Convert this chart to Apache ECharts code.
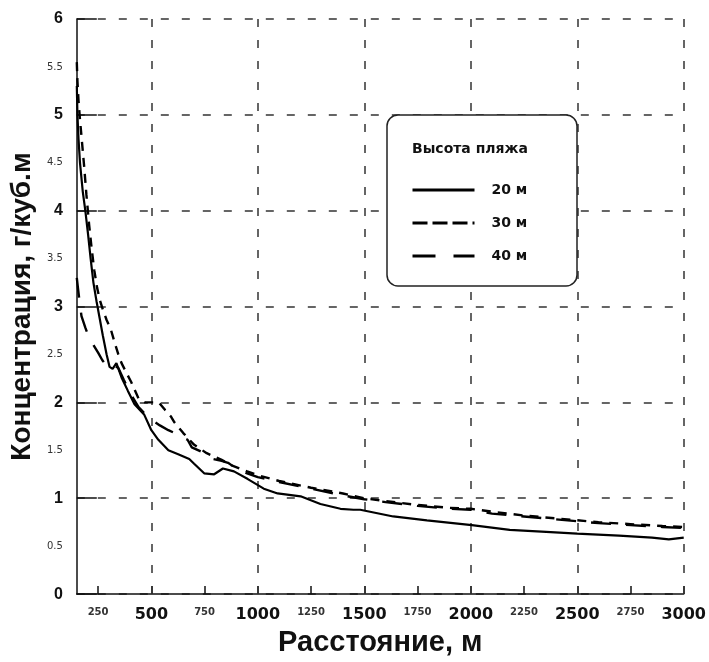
<!DOCTYPE html>
<html>
<head>
<meta charset="utf-8">
<script src="https://cdn.jsdelivr.net/npm/echarts@6/dist/echarts.min.js"></script>
<style>
  html, body { margin: 0; padding: 0; background: #fff; }
  #chart { width: 709px; height: 662px; }
</style>
</head>
<body>
<div id="chart"></div>
<script>
// Distance (m) and concentration (g/m^3) for each beach height
const dist20 = [150, 153, 158, 165, 178, 190, 203, 215, 228, 243, 258, 272, 290, 304, 318, 336, 360, 390, 421, 467, 500, 533, 580, 626, 678, 701, 748, 795, 836, 888, 953, 1028, 1093, 1201, 1294, 1388, 1449, 1481, 1636, 1794, 2005, 2183, 2354, 2500, 2696, 2851, 2930, 3000];
const conc20 = [5.3, 5.0, 4.75, 4.5, 4.2, 4.0, 3.75, 3.5, 3.25, 3.05, 2.87, 2.7, 2.5, 2.37, 2.35, 2.41, 2.26, 2.12, 1.98, 1.87, 1.71, 1.61, 1.5, 1.46, 1.41, 1.36, 1.26, 1.25, 1.31, 1.28, 1.2, 1.1, 1.05, 1.02, 0.94, 0.89, 0.88, 0.88, 0.81, 0.77, 0.72, 0.67, 0.65, 0.63, 0.61, 0.59, 0.57, 0.59];

const dist30 = [150, 153, 158, 165, 175, 185, 195, 208, 220, 232, 245, 258, 272, 290, 310, 327, 345, 360, 385, 406, 440, 470, 500, 535, 565, 593, 609, 650, 700, 760, 830, 880, 950, 1000, 1100, 1250, 1400, 1500, 1600, 1750, 1900, 2000, 2100, 2250, 2400, 2500, 2600, 2750, 2900, 3000];
const conc30 = [5.55, 5.35, 5.15, 4.95, 4.7, 4.45, 4.17, 3.85, 3.6, 3.38, 3.2, 3.07, 2.97, 2.86, 2.76, 2.63, 2.5, 2.41, 2.3, 2.21, 2.04, 2.0, 2.0, 2.0, 1.92, 1.85, 1.79, 1.68, 1.56, 1.47, 1.4, 1.34, 1.28, 1.24, 1.18, 1.11, 1.05, 1.0, 0.97, 0.93, 0.9, 0.89, 0.86, 0.82, 0.79, 0.77, 0.75, 0.73, 0.71, 0.70];

const dist40 = [150, 155, 163, 172, 190, 205, 228, 250, 270, 290, 310, 330, 345, 370, 400, 440, 470, 500, 540, 580, 620, 670, 690, 750, 790, 830, 860, 900, 950, 1000, 1100, 1250, 1400, 1500, 1600, 1750, 1900, 2000, 2100, 2250, 2400, 2500, 2600, 2750, 2900, 3000];
const conc40 = [3.3, 3.2, 3.05, 2.9, 2.78, 2.69, 2.6, 2.52, 2.44, 2.38, 2.36, 2.38, 2.36, 2.24, 2.1, 1.95, 1.88, 1.82, 1.76, 1.71, 1.67, 1.61, 1.53, 1.47, 1.41, 1.39, 1.37, 1.31, 1.26, 1.22, 1.17, 1.10, 1.03, 0.99, 0.96, 0.92, 0.89, 0.88, 0.84, 0.81, 0.78, 0.76, 0.74, 0.72, 0.70, 0.69];

const seriesNames = ['20 м', '30 м', '40 м'];
const legendTitle = 'Высота пляжа';
const xTitle = 'Расстояние, м';
const yTitle = 'Концентрация, г/куб.м';

// Axis ticks
const xTickValues = [250, 500, 750, 1000, 1250, 1500, 1750, 2000, 2250, 2500, 2750, 3000];
const xGridValues = [500, 1000, 1500, 2000, 2500, 3000];
const yMajorValues = [0, 1, 2, 3, 4, 5, 6];

const zip = (xs, ys) => xs.map((x, i) => [x, ys[i]]);

const gridDash = { color: '#333', width: 1.5, type: [8, 13] };

const chart = echarts.init(document.getElementById('chart'), null, { renderer: 'canvas' });

chart.setOption({
  animation: false,
  backgroundColor: '#fff',
  grid: { left: 76, right: 24, top: 19, bottom: 64, containLabel: false },
  xAxis: {
    type: 'value',
    min: 150,
    max: 3000,
    name: xTitle,
    nameLocation: 'middle',
    nameGap: 27,
    nameTextStyle: { fontFamily: 'Liberation Sans', fontWeight: 'bold', fontSize: 29, color: '#111' },
    axisLine: { show: true, onZero: false, lineStyle: { color: '#111', width: 1.5 } },
    axisTick: { show: true, inside: true, length: 8, customValues: xTickValues, lineStyle: { color: '#111', width: 1.5 } },
    axisLabel: {
      show: true,
      customValues: xTickValues,
      margin: 13,
      verticalAlign: 'top',
      formatter: v => (v % 500 === 0 ? '{big|' + v + '}' : '{small|' + v + '}'),
      rich: {
        big: { fontFamily: 'DejaVu Sans', fontWeight: 'bold', fontSize: 16, color: '#111' },
        small: { fontFamily: 'DejaVu Sans', fontWeight: 'bold', fontSize: 10, color: '#333', padding: [0, 0, 4, 0] }
      }
    },
    splitLine: { show: false }
  },
  yAxis: {
    type: 'value',
    min: 0,
    max: 6,
    interval: 0.5,
    name: yTitle,
    nameLocation: 'middle',
    nameGap: 40,
    nameTextStyle: { fontFamily: 'Liberation Sans', fontWeight: 'bold', fontSize: 28, color: '#111' },
    axisLine: { show: true, lineStyle: { color: '#111', width: 1.5 } },
    axisTick: { show: true, inside: true, length: 20, customValues: yMajorValues, lineStyle: { color: '#111', width: 1.5 } },
    axisLabel: {
      margin: 14,
      formatter: v => (Number.isInteger(v) ? '{big|' + v + '}' : '{small|' + v + '}'),
      rich: {
        big: { fontFamily: 'Liberation Sans', fontWeight: 'bold', fontSize: 16, color: '#111' },
        small: { fontFamily: 'DejaVu Sans', fontSize: 10, color: '#333' }
      }
    },
    splitLine: { show: true, lineStyle: gridDash }
  },
  legend: {
    orient: 'vertical',
    left: 411,
    top: 183,
    z: 20,
    padding: 0,
    itemWidth: 62,
    itemHeight: 14,
    itemGap: 19,
    selectedMode: false,
    itemStyle: { color: 'rgba(0,0,0,0)', borderWidth: 0, opacity: 0 },
    lineStyle: { width: 3 },
    textStyle: { fontFamily: 'DejaVu Sans', fontWeight: 'bold', fontSize: 14, color: '#111', padding: [0, 0, 0, 12] },
    data: [
      { name: seriesNames[0], lineStyle: { type: 'solid' } },
      { name: seriesNames[1], lineStyle: { type: [15, 5] } },
      { name: seriesNames[2], lineStyle: { type: [23, 18] } }
    ]
  },
  graphic: [
    {
      type: 'rect',
      z: 4,
      shape: { x: 387, y: 115, width: 190, height: 171, r: 11 },
      style: { fill: '#fff', stroke: '#222', lineWidth: 1.5 }
    },
    {
      type: 'text',
      z: 21,
      x: 412,
      y: 149,
      style: {
        text: legendTitle,
        font: 'bold 14px "DejaVu Sans"',
        fill: '#111',
        verticalAlign: 'middle'
      }
    }
  ],
  series: [
    {
      name: seriesNames[0],
      type: 'line',
      data: zip(dist20, conc20),
      symbol: 'none',
      showSymbol: false,
      z: 3,
      lineStyle: { color: '#000', width: 2.2, type: 'solid' },
      itemStyle: { color: '#000' },
      markLine: {
        silent: true,
        symbol: ['none', 'none'],
        label: { show: false },
        lineStyle: gridDash,
        z: 1,
        data: xGridValues.map(v => ({ xAxis: v }))
      }
    },
    {
      name: seriesNames[1],
      type: 'line',
      data: zip(dist30, conc30),
      symbol: 'none',
      showSymbol: false,
      z: 3,
      lineStyle: { color: '#000', width: 2.4, type: [9, 7] },
      itemStyle: { color: '#000' }
    },
    {
      name: seriesNames[2],
      type: 'line',
      data: zip(dist40, conc40),
      symbol: 'none',
      showSymbol: false,
      z: 3,
      lineStyle: { color: '#000', width: 2.4, type: [20, 15] },
      itemStyle: { color: '#000' }
    }
  ]
});
</script>
</body>
</html>
